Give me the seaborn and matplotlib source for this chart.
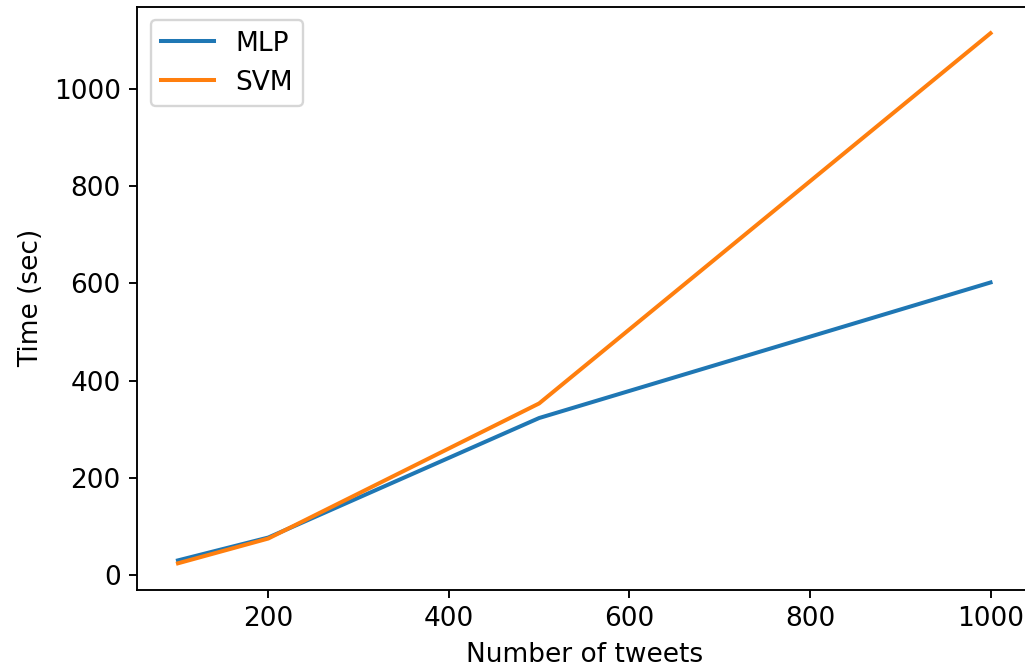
import matplotlib
matplotlib.use("Agg")
import matplotlib.pyplot as plt
import seaborn as sns
import pandas as pd

# values
n_tweets = [100, 200, 500, 1000]
mlp_time = [30, 77, 323, 602]
svm_time = [24, 75, 353, 1115]

df = pd.DataFrame({
    "Number of tweets": n_tweets * 2,
    "Time (sec)": mlp_time + svm_time,
    "model": ["MLP"] * len(n_tweets) + ["SVM"] * len(n_tweets),
})

plt.rcParams["font.size"] = 11.2

fig, ax = plt.subplots(figsize=(1025 / 170, 671 / 170), dpi=170)
fig.subplots_adjust(left=0.134, right=1.006, top=0.99, bottom=0.121)

sns.lineplot(data=df, x="Number of tweets", y="Time (sec)", hue="model",
             palette=["#1f77b4", "#ff7f0e"], ax=ax, linewidth=1.7)
ax.legend(title=None, loc="upper left")

fig.savefig("out.png", dpi=170)
